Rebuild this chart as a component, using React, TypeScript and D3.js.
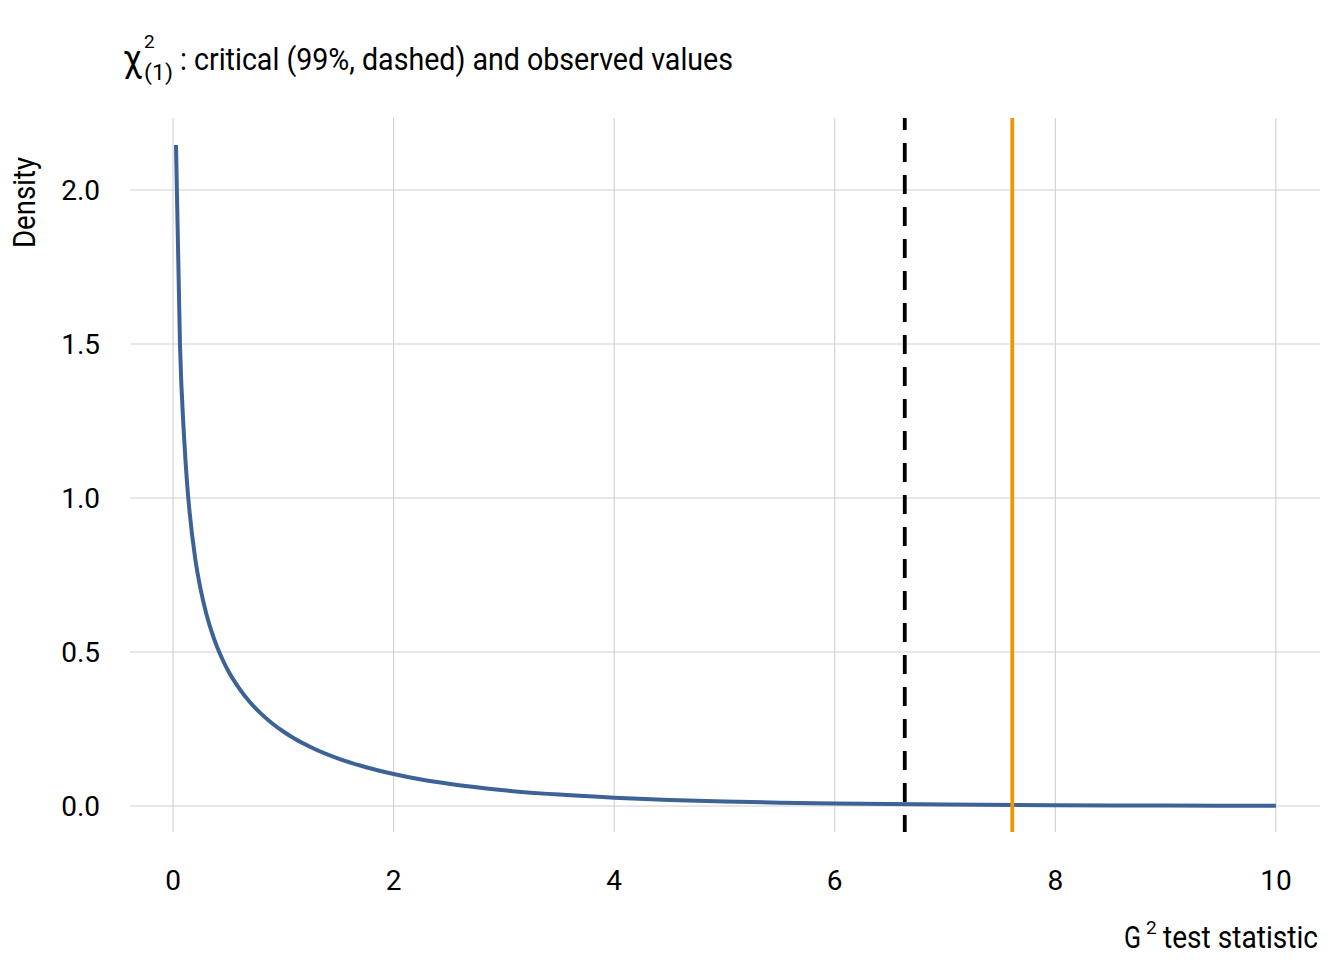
import React from "react";
import * as d3 from "d3";

// Density curve of chi-square(1)
const curveX = [0.027, 0.063, 0.1, 0.127, 0.15, 0.2, 0.25, 0.3, 0.35, 0.4, 0.45, 0.5, 0.6, 0.7, 0.8, 0.9, 1.0, 1.1, 1.25, 1.5, 1.75, 2.0, 2.25, 2.5, 3.0, 3.5, 4.0, 4.5, 5.0, 5.5, 6.0, 7.0, 8.0, 9.0, 10.0];
const curveY = [2.146, 1.5, 1.2, 1.05, 0.956, 0.807, 0.704, 0.627, 0.566, 0.516, 0.475, 0.439, 0.382, 0.336, 0.299, 0.268, 0.242, 0.219, 0.191, 0.154, 0.126, 0.104, 0.086, 0.072, 0.051, 0.037, 0.027, 0.0198, 0.0146, 0.0109, 0.0081, 0.0046, 0.0026, 0.0015, 0.0009];

const criticalValue = 6.635;
const observedValue = 7.61;

const xTicks = [0, 2, 4, 6, 8, 10];
const yTicks = [0, 0.5, 1.0, 1.5, 2.0];
const yTickLabels = ["0.0", "0.5", "1.0", "1.5", "2.0"];

const W = 1344;
const H = 960;
const FONT = "Roboto, 'Noto Sans', sans-serif";

export default function App() {
  const x = d3.scaleLinear().domain([-0.39, 10.4]).range([130, 1320]);
  const y = d3.scaleLinear().domain([-0.0844, 2.234]).range([832, 118]);
  const pts = curveX.map((v, i) => [v, curveY[i]] as [number, number]);
  const line = d3
    .line<[number, number]>()
    .x((d) => x(d[0]))
    .y((d) => y(d[1]))
    .curve(d3.curveMonotoneX);
  const [top, bottom] = [y.range()[1], y.range()[0]];
  const [left, right] = x.range();

  return (
    <svg
      width={W}
      height={H}
      style={{ position: "absolute", left: 0, top: 0, background: "#fff" }}
      fontFamily={FONT}
    >
      <rect x={0} y={0} width={W} height={H} fill="#fff" />
      {/* grid */}
      {yTicks.map((t) => (
        <line key={"gy" + t} x1={left} x2={right} y1={y(t)} y2={y(t)} stroke="#d0d0d0" strokeWidth={1.1} />
      ))}
      {xTicks.map((t) => (
        <line key={"gx" + t} x1={x(t)} x2={x(t)} y1={top} y2={bottom} stroke="#d0d0d0" strokeWidth={1.1} />
      ))}
      {/* density curve */}
      <path d={line(pts) || ""} fill="none" stroke="#3d6296" strokeWidth={4} strokeLinejoin="round" />
      {/* critical value (dashed) */}
      <line
        x1={x(criticalValue)}
        x2={x(criticalValue)}
        y1={bottom}
        y2={top}
        stroke="#000"
        strokeWidth={3.8}
        strokeDasharray="19,13"
        strokeDashoffset={2}
      />
      {/* observed value */}
      <line x1={x(observedValue)} x2={x(observedValue)} y1={bottom} y2={top} stroke="#E69A00" strokeWidth={3.8} />
      {/* x tick labels */}
      {xTicks.map((t) => (
        <text key={"xl" + t} x={x(t)} y={890} textAnchor="middle" fontSize={28} fill="#000">
          {String(t)}
        </text>
      ))}
      {/* y tick labels */}
      {yTicks.map((t, i) => (
        <text key={"yl" + t} x={100} y={y(t) + 10} textAnchor="end" fontSize={28} fill="#000">
          {yTickLabels[i]}
        </text>
      ))}
      {/* y axis title */}
      <text
        transform="translate(35,157) rotate(-90)"
        textAnchor="end"
        fontSize={32}
        fill="#000"
        textLength={91}
        lengthAdjust="spacingAndGlyphs"
      >
        Density
      </text>
      {/* x axis title */}
      <text x={1124} y={948} fontSize={32} fill="#000" textLength={17} lengthAdjust="spacingAndGlyphs">G</text>
      <text x={1146} y={934} fontSize={19} fill="#000">2</text>
      <text x={1163} y={948} fontSize={32} fill="#000" textLength={155} lengthAdjust="spacingAndGlyphs">
        test statistic
      </text>
      {/* title */}
      <text x={123} y={71} fontSize={36} fill="#000" textLength={19} lengthAdjust="spacingAndGlyphs">χ</text>
      <text x={144} y={48} fontSize={19} fill="#000">2</text>
      <text x={144} y={80} fontSize={22} fill="#000" textLength={29} lengthAdjust="spacingAndGlyphs">(1)</text>
      <text x={180} y={70} fontSize={32} fill="#000" textLength={553} lengthAdjust="spacingAndGlyphs">
        : critical (99%, dashed) and observed values
      </text>
    </svg>
  );
}
